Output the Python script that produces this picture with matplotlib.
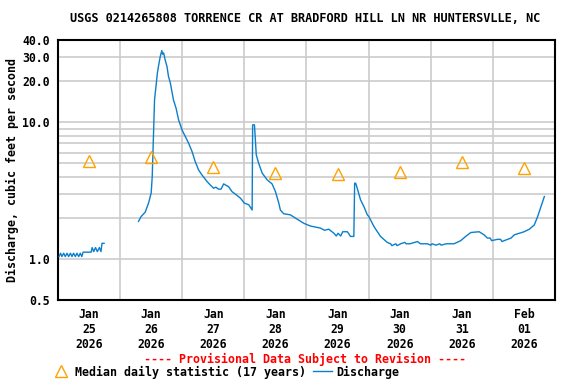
import numpy as np
import matplotlib
matplotlib.use("Agg")
import matplotlib.pyplot as plt
from matplotlib.lines import Line2D

plt.rcParams['font.family'] = ['DejaVu Sans Mono']
plt.rcParams['font.weight'] = 'bold'
plt.rcParams['axes.labelweight'] = 'bold'

# horas desde 2026-01-25 00:00
hrs1 = [0.4, 1.0, 1.5, 2.2, 2.8, 3.5, 4.1, 4.8, 5.4, 6.0, 6.7, 7.3, 8.0, 8.6,
        9.2, 9.7, 12.8, 13.2, 13.8, 14.5, 15.2, 16.0, 16.6, 17.0, 17.8]
q1 = [1.04, 1.10, 1.04, 1.10, 1.04, 1.10, 1.04, 1.10, 1.04, 1.10, 1.04, 1.10,
      1.04, 1.10, 1.04, 1.12, 1.12, 1.21, 1.13, 1.21, 1.13, 1.21, 1.13, 1.30, 1.30]

hrs2 = [31.1, 32.1, 33.7, 35.0, 36.0, 36.4, 36.9, 37.3, 37.8, 38.4, 38.8, 39.5,
        40.1, 40.4, 40.8, 41.4, 42.1, 42.7, 43.4, 44.0, 44.6, 45.6, 46.6, 47.9,
        49.2, 50.4, 51.8, 53.0, 54.3, 55.6, 57.6, 58.8, 60.1, 61.0, 62.0, 63.0,
        64.0, 65.0, 65.9, 67.2, 68.9, 70.5, 72.0, 73.7, 75.0, 75.2, 75.9, 76.6,
        77.5, 78.9, 80.8, 82.7, 84.0, 85.3, 85.9, 87.2, 89.8, 91.7, 95.0, 97.5,
        101.4, 103.0, 104.6, 106.6, 107.5, 108.2, 109.2, 110.0, 111.8, 113.0,
        114.3, 114.6, 115.0, 115.6, 116.9, 118.2, 119.5, 120.1, 122.1, 124.6,
        127.2, 128.5, 129.0, 130.5, 131.0, 132.4, 134.0, 134.5, 136.0, 138.9,
        140.0, 142.7, 144.0, 144.5, 146.0, 147.5, 148.0, 150.0, 151.5, 153.0,
        155.6, 157.5, 159.5, 162.7, 164.6, 165.9, 167.0, 167.5, 169.8, 171.0,
        171.5, 175.0, 176.3, 180.1, 182.1, 184.0, 185.3, 186.6, 187.9]
q2 = [1.88, 2.04, 2.20, 2.57, 3.04, 4.00, 8.36, 14.6, 17.9, 23.0, 25.6, 30.3,
      33.5, 31.5, 32.2, 28.6, 25.6, 21.6, 19.4, 16.8, 14.6, 12.7, 10.4, 8.80,
      7.86, 7.07, 6.10, 5.16, 4.48, 4.12, 3.68, 3.48, 3.29, 3.35, 3.24, 3.24,
      3.54, 3.45, 3.38, 3.11, 2.94, 2.78, 2.56, 2.49, 2.28, 9.57, 9.57, 5.77,
      5.02, 4.24, 3.79, 3.54, 3.11, 2.56, 2.28, 2.14, 2.10, 1.99, 1.82, 1.74,
      1.68, 1.62, 1.65, 1.54, 1.47, 1.54, 1.47, 1.58, 1.58, 1.46,
      1.46, 3.58, 3.58, 3.29, 2.70, 2.41, 2.10, 2.04, 1.72, 1.46,
      1.32, 1.29, 1.25, 1.29, 1.25, 1.29, 1.32, 1.29, 1.29, 1.34,
      1.29, 1.29, 1.26, 1.29, 1.26, 1.29, 1.26, 1.29, 1.29, 1.29,
      1.36, 1.46, 1.56, 1.58, 1.50, 1.42, 1.42, 1.36, 1.39, 1.39,
      1.34, 1.42, 1.50, 1.58, 1.65, 1.77, 2.04, 2.41, 2.86]

mediana_hrs = [12, 36, 60, 84, 108, 132, 156, 180]
mediana = [5.2, 5.58, 4.72, 4.26, 4.19, 4.33, 5.13, 4.64]

dias = ['Jan\n25\n2026', 'Jan\n26\n2026', 'Jan\n27\n2026', 'Jan\n28\n2026',
        'Jan\n29\n2026', 'Jan\n30\n2026', 'Jan\n31\n2026', 'Feb\n01\n2026']

azul = '#0a7fcc'
naranja = '#ffa200'

fig = plt.figure(figsize=(5.76, 3.84), dpi=100)
ax = fig.add_axes([0.1007, 0.21875, 0.8628, 0.677])

x = hrs1 + [np.nan] + hrs2
y = q1 + [np.nan] + q2
ax.plot(x, y, color=azul, lw=1.0, zorder=3)
ax.plot(mediana_hrs, mediana, ls='none', marker='^', ms=8, mfc='none',
        mec=naranja, mew=1.0, zorder=4)

ax.set_yscale('log')
ax.set_ylim(0.5, 40)
ax.set_xlim(0, 192)

# rejilla
ax.set_yticks([0.5, 1, 10, 20, 30, 40])
ax.set_yticklabels(['0.5', '1.0', '10.0', '20.0', '30.0', '40.0'])
ax.set_yticks([2, 3, 4, 5, 6, 7, 8, 9], minor=True)
ax.yaxis.set_minor_formatter(plt.NullFormatter())
ax.set_xticks(np.arange(24, 192, 24))
ax.set_xticklabels([])
ax.set_xticks(mediana_hrs, minor=True)
ax.set_xticklabels(dias, minor=True)
ax.grid(True, which='major', color='#cccccc', lw=1.2, zorder=0)
ax.grid(True, which='minor', axis='y', color='#cccccc', lw=1.2, zorder=0)
ax.tick_params(which='both', length=0, labelsize=8.3, pad=6)
for s in ax.spines.values():
    s.set_linewidth(1.5)

ax.set_ylabel('Discharge, cubic feet per second', fontsize=8.4, labelpad=2)
fig.text(0.53, 1 - 19 / 384, 'USGS 0214265808 TORRENCE CR AT BRADFORD HILL LN NR HUNTERSVLLE, NC',
         ha='center', va='center', fontsize=8.6)
fig.text(0.53, 1 - 359 / 384, '---- Provisional Data Subject to Revision ----',
         ha='center', va='center', fontsize=8.4, color='red')

h1 = Line2D([], [], ls='none', marker='^', ms=8, mfc='none', mec=naranja, mew=1.0)
h2 = Line2D([], [], color=azul, lw=1.0)
fig.legend([h1, h2], ['Median daily statistic (17 years)', 'Discharge'],
           loc='center left', bbox_to_anchor=(0.09, 1 - 372 / 384), ncol=2,
           frameon=False, fontsize=8.4, handlelength=1.6, handletextpad=0.4,
           columnspacing=0.6, borderaxespad=0, borderpad=0)

fig.savefig('out.png', dpi=100)
